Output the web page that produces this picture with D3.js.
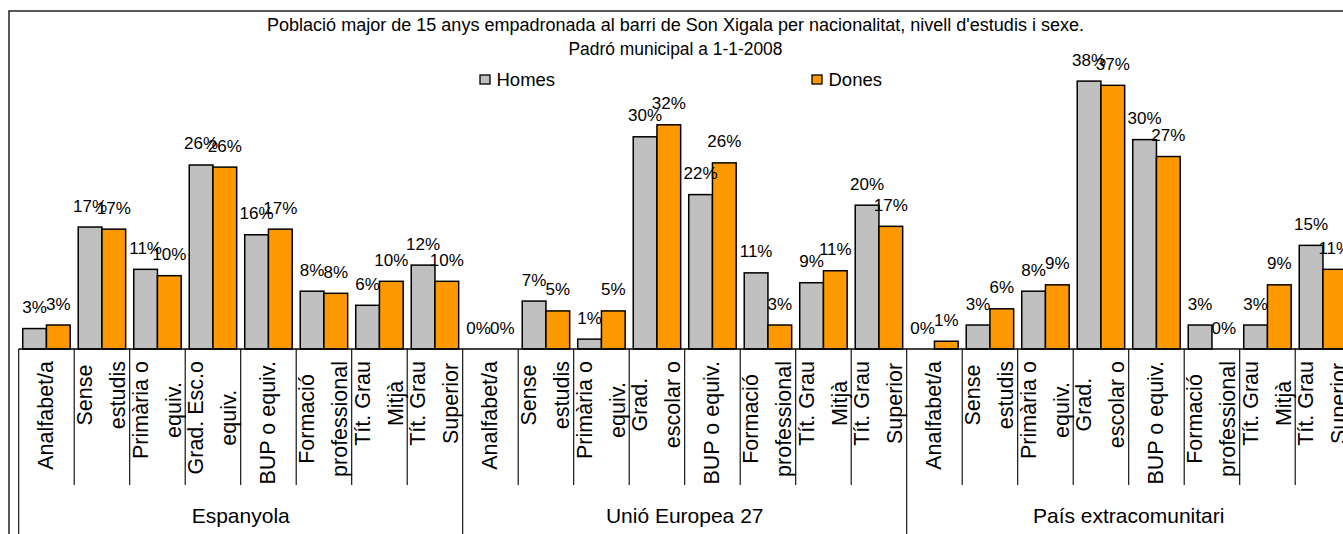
<!DOCTYPE html>
<html>
<head>
<meta charset="utf-8">
<script src="https://cdn.jsdelivr.net/npm/d3@7"></script>
<style>
  html, body { margin: 0; padding: 0; background: #fff; }
  svg { display: block; font-family: "Liberation Sans", Arial, sans-serif; }
</style>
</head>
<body>
<svg id="chart" width="1343" height="534"></svg>
<script>
// ---------- data ----------
const titleLines = [
  "Població major de 15 anys empadronada al barri de Son Xigala per nacionalitat, nivell d'estudis i sexe.",
  "Padró municipal a 1-1-2008"
];
const seriesNames = ["Homes", "Dones"];
const groups = ["Espanyola", "Unió Europea 27", "País extracomunitari"];
const catsEspanyola = ["Analfabet/a", "Sense\nestudis", "Primària o\nequiv.", "Grad. Esc.o\nequiv.", "BUP o equiv.", "Formació\nprofessional", "Tít. Grau\nMitjà", "Tít. Grau\nSuperior"];
const catsUE = ["Analfabet/a", "Sense\nestudis", "Primària o\nequiv.", "Grad.\nescolar o", "BUP o equiv.", "Formació\nprofessional", "Tít. Grau\nMitjà", "Tít. Grau\nSuperior"];
const catsExtra = ["Analfabet/a", "Sense\nestudis", "Primària o\nequiv.", "Grad.\nescolar o", "BUP o equiv.", "Formació\nprofessional", "Tít. Grau\nMitjà", "Tít. Grau\nSuperior"];
// percentages
const homesEspanyola = [2.9, 17.3, 11.3, 26.1, 16.2, 8.2, 6.2, 11.9];
const donesEspanyola = [3.4, 17.0, 10.4, 25.8, 17.0, 7.9, 9.6, 9.6];
const homesUE = [0, 6.8, 1.4, 30.1, 21.9, 10.8, 9.4, 20.4];
const donesUE = [0, 5.4, 5.4, 31.8, 26.4, 3.4, 11.1, 17.4];
const homesExtra = [0, 3.4, 8.2, 38.0, 29.7, 3.4, 3.4, 14.7];
const donesExtra = [1.1, 5.7, 9.1, 37.4, 27.3, 0, 9.1, 11.3];
const yMax = 40;

// ---------- build rows ----------
const catLists = [catsEspanyola, catsUE, catsExtra];
const homesLists = [homesEspanyola, homesUE, homesExtra];
const donesLists = [donesEspanyola, donesUE, donesExtra];
const rows = [];
groups.forEach((g, gi) => {
  catLists[gi].forEach((c, ci) => {
    rows.push({ key: gi + "|" + ci, group: g, label: c, values: [homesLists[gi][ci], donesLists[gi][ci]] });
  });
});

// ---------- layout ----------
const svg = d3.select("#chart");
const colors = ["#C0C0C0", "#FF9900"];
const plotLeft = 18.7, plotRight = 1350.7, baseY = 349, plotTop = 67;

const x = d3.scaleBand().domain(rows.map(r => r.key)).range([plotLeft, plotRight]).padding(0);
const xs = d3.scaleBand().domain(seriesNames).range([0, x.bandwidth()]).paddingInner(0).paddingOuter(0.17);
const y = d3.scaleLinear().domain([0, yMax]).range([baseY, plotTop]);

// chart area border
svg.append("rect").attr("x", 9).attr("y", 11).attr("width", 1400).attr("height", 600)
  .attr("fill", "none").attr("stroke", "#000").attr("stroke-width", 1.3);

// title
const tl = [{ t: titleLines[0], y: 31, len: 817, fs: 17.5 }, { t: titleLines[1], y: 55, len: 214, fs: 17.5 }];
tl.forEach(d => {
  svg.append("text").attr("x", 675.5).attr("y", d.y).attr("text-anchor", "middle")
    .attr("font-size", d.fs).attr("fill", "#000")
    .attr("textLength", d.len).attr("lengthAdjust", "spacingAndGlyphs").text(d.t);
});

// legend
const legendX = [480, 812];
seriesNames.forEach((s, i) => {
  svg.append("rect").attr("x", legendX[i]).attr("y", 75).attr("width", 10).attr("height", 9)
    .attr("fill", colors[i]).attr("stroke", "#000").attr("stroke-width", 1.3);
  svg.append("text").attr("x", legendX[i] + 16.5).attr("y", 85.5).attr("font-size", 18.5)
    .attr("fill", "#000").text(s);
});

// bars
const catG = svg.append("g");
rows.forEach(r => {
  const g = catG.append("g").attr("transform", `translate(${x(r.key)},0)`);
  r.values.forEach((v, i) => {
    if (v > 0) {
      g.append("rect").attr("x", xs(seriesNames[i])).attr("y", y(v))
        .attr("width", xs.bandwidth()).attr("height", baseY - y(v))
        .attr("fill", colors[i]).attr("stroke", "#000").attr("stroke-width", 1.5);
    }
  });
});
// data labels
rows.forEach(r => {
  r.values.forEach((v, i) => {
    svg.append("text").attr("x", x(r.key) + xs(seriesNames[i]) + xs.bandwidth() / 2)
      .attr("y", y(v) - 15.5).attr("text-anchor", "middle").attr("font-size", 17)
      .attr("fill", "#000").text(Math.round(v) + "%");
  });
});

// axis line
svg.append("line").attr("x1", plotLeft).attr("x2", 1400).attr("y1", baseY).attr("y2", baseY)
  .attr("stroke", "#000").attr("stroke-width", 1.3);

// category separators
rows.forEach((r, i) => {
  const xx = x(r.key);
  const isGroupStart = r.key.endsWith("|0");
  svg.append("line").attr("x1", xx).attr("x2", xx).attr("y1", baseY)
    .attr("y2", isGroupStart ? 540 : 485).attr("stroke", "#000").attr("stroke-width", 1.1);
});
svg.append("line").attr("x1", plotRight).attr("x2", plotRight).attr("y1", baseY).attr("y2", 540)
  .attr("stroke", "#000").attr("stroke-width", 1.1);

// category labels (rotated)
rows.forEach(r => {
  const lines = r.label.split("\n");
  const cx = x(r.key) + x.bandwidth() / 2;
  const g = svg.append("g");
  const texts = lines.map((ln, li) => {
    const off = lines.length === 1 ? 0 : (li - (lines.length - 1) / 2) * 33;
    return g.append("text").attr("text-anchor", "middle").attr("dominant-baseline", "central")
      .attr("font-size", 21.5).attr("fill", "#000").attr("data-off", off).text(ln);
  });
  const maxLen = d3.max(texts, t => t.node().getComputedTextLength());
  const cy = 361 + maxLen / 2;
  texts.forEach(t => {
    const off = +t.attr("data-off");
    t.attr("transform", `translate(${cx + off},${cy}) rotate(-90)`);
  });
});

// group labels
groups.forEach((g, gi) => {
  const keys = rows.filter(r => r.group === g).map(r => r.key);
  const x0 = x(keys[0]), x1 = x(keys[keys.length - 1]) + x.bandwidth();
  svg.append("text").attr("x", (x0 + x1) / 2).attr("y", 522.5).attr("text-anchor", "middle")
    .attr("font-size", 21).attr("fill", "#000").text(g);
});
</script>
</body>
</html>
